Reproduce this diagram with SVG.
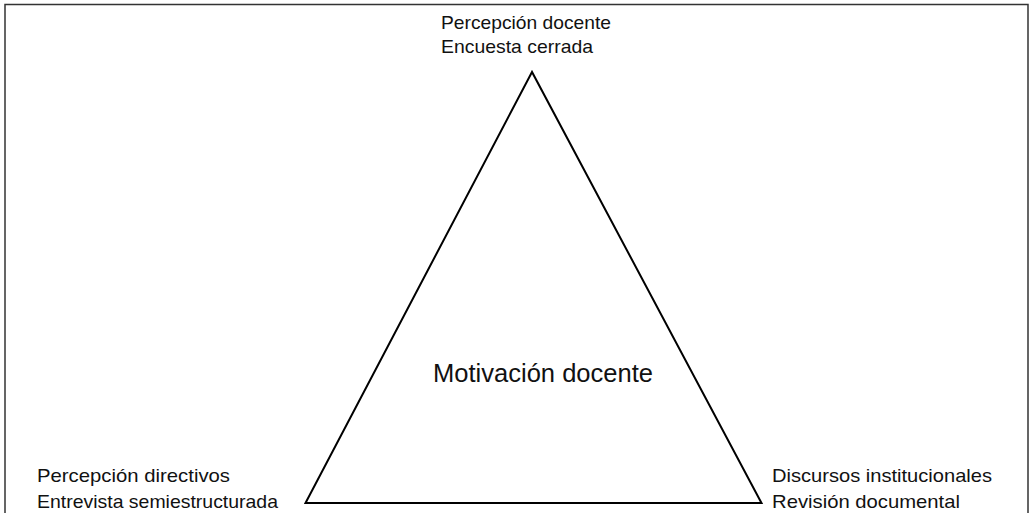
<svg xmlns="http://www.w3.org/2000/svg" width="1030" height="513" viewBox="0 0 1030 513">
<style>
.t{font-family:"Liberation Sans",Arial,sans-serif;font-size:19px;fill:#111}
.m{font-family:"Liberation Sans",Arial,sans-serif;font-size:25px;fill:#111}
</style>
<rect width="1030" height="513" fill="#fff"/>
<path d="M5,520 L5,4.5 L1028,4.5 L1028,520" fill="none" stroke="#333" stroke-width="1.5"/>
<g id="connectors">
<polygon points="532,72 305.5,503 761.5,503" fill="none" stroke="#000" stroke-width="2"/>
</g>
<g id="center"><text class="m" x="433" y="382" textLength="220" lengthAdjust="spacingAndGlyphs">Motivación docente</text></g>
<g id="top">
<text class="t" x="441" y="29" textLength="170" lengthAdjust="spacingAndGlyphs">Percepción docente</text>
<text class="t" x="441" y="53" textLength="152" lengthAdjust="spacingAndGlyphs">Encuesta cerrada</text>
</g>
<g id="left">
<text class="t" x="37" y="482" textLength="193" lengthAdjust="spacingAndGlyphs">Percepción directivos</text>
<text class="t" x="37" y="508" textLength="241" lengthAdjust="spacingAndGlyphs">Entrevista semiestructurada</text>
</g>
<g id="right">
<text class="t" x="772" y="482" textLength="220" lengthAdjust="spacingAndGlyphs">Discursos institucionales</text>
<text class="t" x="772" y="508" textLength="188" lengthAdjust="spacingAndGlyphs">Revisión documental</text>
</g>
</svg>
